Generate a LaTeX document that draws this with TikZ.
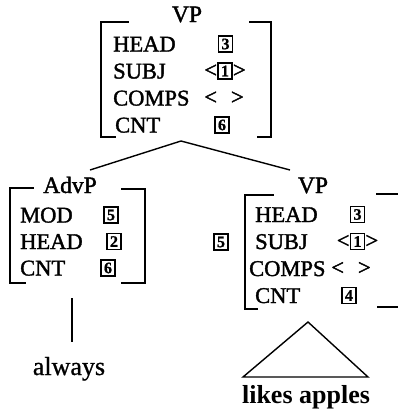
\documentclass[tikz,border=0pt]{standalone}
\usepackage{fontspec}
\setmainfont{Liberation Serif}
\newfontfamily\heavyserif[FakeBold=1.6]{Liberation Serif}
\newfontfamily\wordserif[FakeBold=0.8]{Liberation Serif}
\newfontfamily\tagserif[FakeBold=1.0]{Liberation Serif Bold}
\begin{document}
\begin{tikzpicture}[x=1pt,y=-1pt,
  brk/.style={line width=1.4pt, line cap=rect},
  feat/.style={anchor=base west, inner sep=0pt, font=\heavyserif\fontsize{22.5}{27}\selectfont},
  cat/.style={anchor=base, inner sep=0pt, font=\heavyserif\fontsize{23.5}{27}\selectfont},
  tag/.style={draw, line width=1.5pt, minimum width=14pt, minimum height=16pt, inner sep=0pt, font=\tagserif\fontsize{16}{16}\selectfont},
  ang/.style={inner sep=0pt, font=\heavyserif\fontsize{22.5}{27}\selectfont},
  word/.style={anchor=base, inner sep=0pt, font=\wordserif\fontsize{26}{30}\selectfont},
  edge/.style={line width=1.4pt}]
\fill[white] (0,0) rectangle (397,418);
\useasboundingbox (0,0) rectangle (397,418);

% ---------- top VP ----------
\node[cat] (vp1) at (187,22) {VP};
\draw[brk] (128,22) -- (101,22) -- (101,137) -- (115,137);
\draw[brk] (250,22) -- (271,22) -- (271,137) -- (258,137);
\node[feat] (t-head)  at (113,51.5)  {HEAD};
\node[feat] (t-subj)  at (113,78.5)  {SUBJ};
\node[feat] (t-comps) at (113,105.5) {COMPS};
\node[feat] (t-cnt)   at (115,132.5) {CNT};
\node[tag] (t-v3) at (225.5,44) {3};
\node[tag] (t-v1) at (225,71) {1};
\node[ang,anchor=east] (t-la) at (t-v1.west) {<};
\node[ang,anchor=west] (t-ra) at (t-v1.east) {>};
\node[ang] (t-empty) at (224,98) {<\hspace{14pt}>};
\node[tag] (t-v6) at (222,125) {6};

% ---------- connectors ----------
\coordinate (apex) at (181,141);
\coordinate (advptop) at (90,170);
\coordinate (vp2top) at (290,170);
\draw[edge] (apex) -- (advptop);
\draw[edge] (apex) -- (vp2top);

% ---------- AdvP ----------
\node[cat] (advp) at (70,193) {AdvP};
\draw[brk] (33,188) -- (10,188) -- (10,283) -- (25,283);
\draw[brk] (122,189) -- (145,189) -- (145,283) -- (122,283);
\node[feat] (a-mod)  at (20,222.5) {MOD};
\node[feat] (a-head) at (20,249)   {HEAD};
\node[feat] (a-cnt)  at (20,275.5) {CNT};
\node[tag] (a-v5) at (111,215)   {5};
\node[tag] (a-v2) at (114,241.5) {2};
\node[tag] (a-v6) at (108,268)   {6};

\coordinate (advbot) at (72,298);
\coordinate (alwtop) at (72,342);
\draw[edge] (advbot) -- (alwtop);
\node[word] (always) at (69,375) {always};

% ---------- lower VP ----------
\node[cat] (vp2) at (313,193) {VP};
\draw[brk] (273,195) -- (245,195) -- (245,309) -- (257,309);
\draw[brk] (377,194) -- (397,194);
\draw[brk] (378,307) -- (397,307);
\node[tag] (b-v5out) at (221,242) {5};
\node[feat] (b-head)  at (255,222) {HEAD};
\node[feat] (b-subj)  at (255,249) {SUBJ};
\node[feat] (b-comps) at (249,276) {COMPS};
\node[feat] (b-cnt)   at (255,303) {CNT};
\node[tag] (b-v3) at (357.5,214.5) {3};
\node[tag] (b-v1) at (357.5,241.5) {1};
\node[ang,anchor=east] (b-la) at (b-v1.west) {<};
\node[ang,anchor=west] (b-ra) at (b-v1.east) {>};
\node[ang] (b-empty) at (351,268.5) {<\hspace{14pt}>};
\node[tag] (b-v4) at (349,295.5) {4};

% ---------- triangle ----------
\coordinate (tri-top) at (308,322);
\coordinate (tri-l) at (243,377);
\coordinate (tri-r) at (368,377);
\draw[edge, line join=miter] (tri-top) -- (tri-l) -- (tri-r) -- cycle;
\node[word, font=\bfseries\fontsize{26}{30}\selectfont] (likes) at (306,403) {likes apples};
\end{tikzpicture}
\end{document}
